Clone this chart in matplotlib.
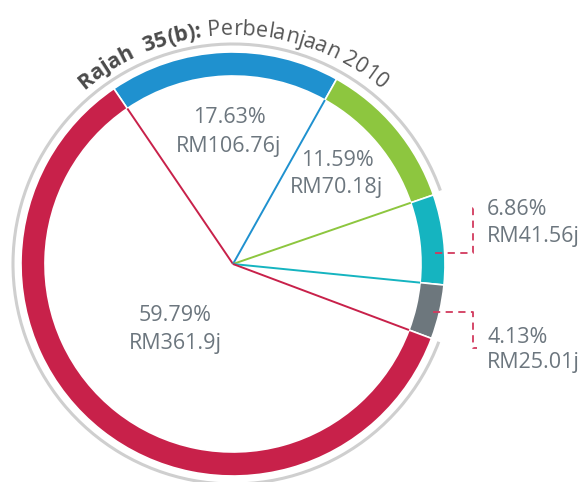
import numpy as np
import matplotlib.pyplot as plt
from matplotlib.patches import Arc
from matplotlib.font_manager import FontProperties, findfont, get_font

# Perbelanjaan 2010 (RM juta), clockwise from the top-left
names = ["Blue", "Green", "Teal", "Grey", "Red"]
percents = [17.63, 11.59, 6.86, 4.13, 59.79]
amounts = [106.76, 70.18, 41.56, 25.01, 361.9]
colors = ["#1f91cf", "#8dc63f", "#15b4c0", "#6d777d", "#c8214a"]
spoke_colors = ["#c8214a", "#1f91cf", "#8dc63f", "#15b4c0", "#c8214a"]

title_bold = "Rajah  35(b):"
title_rest = " Perbelanjaan 2010"

W, H = 584, 482
TXT = "#6c767e"
FONT = "Open Sans"

fig = plt.figure(figsize=(W / 100, H / 100), dpi=100)
ax = fig.add_axes([0, 0, 1, 1])


def py(y):
    # image rows run downward, axes y runs upward
    return H - y


cx, cy = 233, py(264)
r_out, ring_w = 212, 24
start = 124.2

ax.pie(percents, colors=colors, startangle=start, counterclock=False,
       radius=r_out, center=(cx, cy),
       wedgeprops=dict(width=ring_w, edgecolor="white", linewidth=1.2))

# spokes from the centre to the inner edge at each slice boundary
bounds = start - 3.6 * np.concatenate([[0], np.cumsum(percents)[:-1]])
r_in = r_out - ring_w
for ang, c in zip(bounds, spoke_colors):
    t = np.radians(ang)
    ax.plot([cx, cx + r_in * np.cos(t)], [cy, cy + r_in * np.sin(t)],
            color=c, lw=1.4, solid_capstyle="butt")

# thin grey arc outside the ring, open on the right where the labels sit
ax.add_patch(Arc((cx, cy), 2 * 220, 2 * 220, theta1=19.5, theta2=339.3,
                 color="#cfcfcf", lw=2.2))

# value labels
lab_pos = [(229, 123, 152, "center"), (337, 166, 193, "center"),
           (487, 215, 242, "left"), (487, 343, 368, "left"),
           (175, 321, 349, "center")]
for p, a, (x, y1, y2, ha) in zip(percents, amounts, lab_pos):
    ax.text(x, py(y1), f"{p:.2f}%", ha=ha, va="baseline", color=TXT,
            fontsize=15.5, family=FONT)
    ax.text(x, py(y2), f"RM{a}j", ha=ha, va="baseline", color=TXT,
            fontsize=15.5, family=FONT)

# dashed leaders for the two small slices
leaders = [[(435, 253), (473, 253), (473, 208), (477, 208)],
           [(433, 312), (473, 312), (473, 348), (477, 348)]]
for pts in leaders:
    xs = [p[0] for p in pts]
    ys = [py(p[1]) for p in pts]
    ax.plot(xs, ys, color="#d23a5e", lw=1.3, dashes=(4, 3))

# title set along an arc above the ring
fs = 15.5
fp_b = FontProperties(family=FONT, weight="bold", size=fs)
fp_r = FontProperties(family=FONT, size=fs)


def advance(ch, fp):
    font = get_font(findfont(fp))
    font.set_size(fs, 72)
    g = font.load_char(ord(ch))
    return g.linearHoriAdvance / 65536 * 100 / 72


chars = [(c, fp_b, "#4b4b4b") for c in title_bold] + \
        [(c, fp_r, "#555555") for c in title_rest]
widths = [advance(c, fp) for c, fp, _ in chars]
total = sum(widths)
r_t = 229
theta0 = np.pi / 2 + total / 2 / r_t
s = 0
for (c, fp, col), w in zip(chars, widths):
    th = theta0 - (s + w / 2) / r_t
    s += w
    if c == " ":
        continue
    ax.text(cx + r_t * np.cos(th), cy + r_t * np.sin(th), c,
            fontproperties=fp, color=col, ha="center", va="baseline",
            rotation=np.degrees(th) - 90, rotation_mode="anchor")

ax.set_xlim(0, W)
ax.set_ylim(0, H)
ax.set_aspect("equal")
ax.axis("off")
fig.savefig("out.png", dpi=100, facecolor="white")
